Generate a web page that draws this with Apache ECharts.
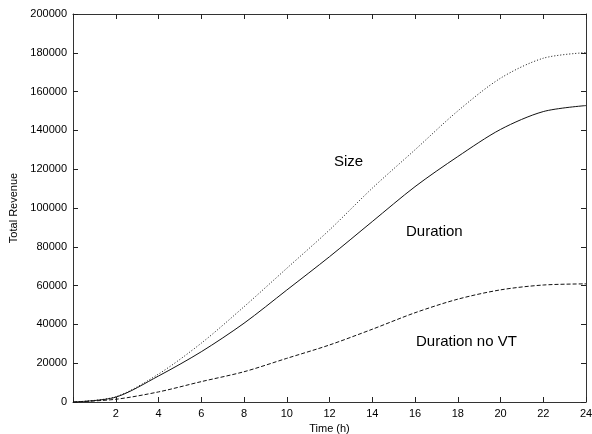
<!DOCTYPE html>
<html>
<head>
<meta charset="utf-8">
<script src="https://cdn.jsdelivr.net/npm/echarts@6/dist/echarts.min.js"></script>
<style>html,body{margin:0;padding:0;background:#fff}#c{width:592px;height:434px}</style>
</head>
<body>
<div id="c"></div>
<script>
var hours = [0, 2, 4, 6, 8, 10, 12, 14, 16, 18, 20, 22, 24];
var sizeRevenue = [0, 2700, 14400, 30300, 49100, 68900, 88700, 110200, 130000, 150000, 166900, 177200, 180100];
var durationRevenue = [0, 2500, 13400, 25900, 40600, 57700, 74900, 93000, 111000, 126500, 140500, 149700, 152800];
var durationNoVTRevenue = [0, 1400, 5200, 10500, 15600, 22500, 29400, 37500, 46000, 53000, 57800, 60300, 60900];
var seriesNames = ['Size', 'Duration', 'Duration no VT'];
var xTitle = 'Time (h)';
var yTitle = 'Total Revenue';

function pairs(vals) { return hours.map(function (h, i) { return [h, vals[i]]; }); }

var font = 'Liberation Sans, Arial, sans-serif';
function axLine() { return { show: true, onZero: false, lineStyle: { color: '#333', width: 1 } }; }
function axTick() { return { show: true, inside: true, length: 5, lineStyle: { color: '#222', width: 1 } }; }
var chart = echarts.init(document.getElementById('c'), null, { renderer: 'canvas' });
var lineStyleBase = { color: '#111', width: 1 };
chart.setOption({
  animation: false,
  backgroundColor: '#fff',
  grid: { left: 73, right: 6, top: 14, bottom: 32, containLabel: false, outerBoundsMode: 'none' },
  xAxis: [
    {
      type: 'value', min: 0, max: 24, interval: 2, position: 'bottom',
      name: xTitle, nameLocation: 'middle', nameGap: 16,
      nameTextStyle: { fontFamily: font, fontSize: 11, color: '#000' },
      axisLine: axLine(), axisTick: axTick(), splitLine: { show: false },
      axisLabel: { fontFamily: font, fontSize: 11, color: '#000', margin: 6,
        formatter: function (v) { return v === 0 ? '' : String(v); } }
    },
    {
      type: 'value', min: 0, max: 24, interval: 2, position: 'top',
      axisLine: axLine(), axisTick: axTick(), splitLine: { show: false },
      axisLabel: { show: false }
    }
  ],
  yAxis: [
    {
      type: 'value', min: 0, max: 200000, interval: 20000, position: 'left',
      name: yTitle, nameLocation: 'middle', nameGap: 45, nameRotate: 90,
      nameTextStyle: { fontFamily: font, fontSize: 11, color: '#000' },
      axisLine: axLine(), axisTick: axTick(), splitLine: { show: false },
      axisLabel: { fontFamily: font, fontSize: 11, color: '#000', margin: 6,
        formatter: function (v) { return String(v); } }
    },
    {
      type: 'value', min: 0, max: 200000, interval: 20000, position: 'right',
      axisLine: axLine(), axisTick: axTick(), splitLine: { show: false },
      axisLabel: { show: false }
    }
  ],
  series: [
    { name: seriesNames[0], type: 'line', data: pairs(sizeRevenue), smooth: 0.3, showSymbol: false,
      lineStyle: Object.assign({ type: [1, 2] }, lineStyleBase) },
    { name: seriesNames[1], type: 'line', data: pairs(durationRevenue), smooth: 0.3, showSymbol: false,
      lineStyle: Object.assign({ type: 'solid' }, lineStyleBase) },
    { name: seriesNames[2], type: 'line', data: pairs(durationNoVTRevenue), smooth: 0.3, showSymbol: false,
      lineStyle: Object.assign({ type: [4, 2] }, lineStyleBase) }
  ],
  graphic: [
    { type: 'text', left: 334, top: 154, style: { text: seriesNames[0], font: '15px ' + font, fill: '#000' } },
    { type: 'text', left: 406, top: 224, style: { text: seriesNames[1], font: '15px ' + font, fill: '#000' } },
    { type: 'text', left: 416, top: 334, style: { text: seriesNames[2], font: '15px ' + font, fill: '#000' } }
  ]
});
</script>
</body>
</html>
